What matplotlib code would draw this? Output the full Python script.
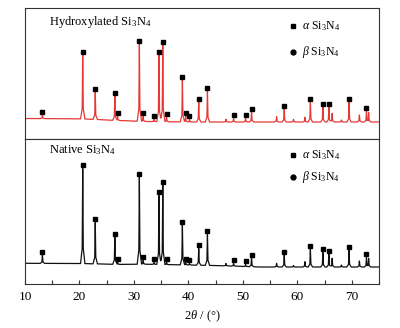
import numpy as np
import matplotlib
matplotlib.use("Agg")
import matplotlib.pyplot as plt
from matplotlib.transforms import offset_copy

# ---- data ----
peak_2theta = [13.2, 20.6, 22.9, 26.5, 27.0, 31.0, 31.7, 33.7, 34.6, 35.3, 36.0,
               38.9, 39.5, 40.2, 41.9, 43.5, 48.3, 50.5, 51.6, 57.6, 62.4, 64.7,
               65.8, 69.5, 72.7]
hyd_peak_top = [6.8, 66.8, 30.2, 25.8, 5.5, 77.5, 5.5, 2.5, 67.2, 76.8, 4.5,
                41.8, 5.5, 2.5, 20.2, 30.8, 3.5, 3.5, 9.8, 12.8, 19.8, 15.2,
                15.2, 19.8, 10.5]
nat_peak_top = [12.2, 98.5, 44.5, 29.8, 5.0, 89.8, 6.5, 4.5, 71.5, 82.2, 4.5,
                42.2, 5.2, 3.5, 18.5, 32.5, 3.5, 2.5, 9.2, 12.2, 17.8, 14.5,
                12.8, 17.2, 9.5]

extra_2theta = [46.9, 56.2, 59.3, 61.4, 66.4, 68.1, 71.4, 73.1]
hyd_extra_top = [2.7, 5.3, 2.7, 4.7, 8.7, 2.0, 7.0, 9.3]
nat_extra_top = [3.5, 3.7, 1.5, 5.3, 8.7, 2.0, 6.0, 8.7]

base_2theta = [10, 20, 27, 32, 40, 46, 53, 75]
hyd_base = [3.5, 3.2, 1.5, 0.5, 0.0, 0.0, 0.0, 0.0]
nat_base = [3.7, 3.5, 2.6, 2.8, 2.0, 1.3, 0.0, 0.0]

x_ticks = [10, 20, 30, 40, 50, 60, 70]

plt.rcParams["font.family"] = ["Liberation Serif", "DejaVu Serif"]
plt.rcParams["mathtext.fontset"] = "custom"
plt.rcParams["mathtext.rm"] = "Liberation Serif"
plt.rcParams["mathtext.it"] = "Liberation Serif:italic"


def profile(px_list, pt_list, bx, by):
    foot, shoulder, frac = 0.4, 0.1, 0.16
    xs = list(bx)
    for p in px_list:
        xs += [p - foot, p - shoulder, p, p + shoulder, p + foot]
    xs = np.unique(np.array(xs, dtype=float))
    y = np.interp(xs, bx, by)
    for p, t in zip(px_list, pt_list):
        b = float(np.interp(p, bx, by))
        sx = [p - foot, p - shoulder, p, p + shoulder, p + foot]
        sy = [b, b + frac * (t - b), t, b + frac * (t - b), b]
        c = np.interp(xs, sx, sy, left=-np.inf, right=-np.inf)
        y = np.maximum(y, c)
    return xs, y


fig = plt.figure(figsize=(4.0, 3.28), dpi=100)
fig.subplots_adjust(left=25 / 400, right=379 / 400, top=1 - 8 / 328,
                    bottom=1 - 284 / 328, hspace=0)
gs = fig.add_gridspec(2, 1, height_ratios=[131, 145])
ax1 = fig.add_subplot(gs[0])
ax2 = fig.add_subplot(gs[1], sharex=ax1)

panels = [
    (ax1, hyd_peak_top, hyd_extra_top, hyd_base, "#e53935", (-17, 114),
     "Hydroxylated Si$_3$N$_4$", 0.893, 0.863, 0.664),
    (ax2, nat_peak_top, nat_extra_top, nat_base, "#111111", (-17, 128),
     "Native Si$_3$N$_4$", 0.924, 0.890, 0.738),
]

for ax, tops, etops, base, col, ylim, title, ty, ya, yb in panels:
    xs, ys = profile(peak_2theta + extra_2theta, tops + etops, base_2theta, base)
    ax.plot(xs, ys, color=col, lw=0.9)
    tr = offset_copy(ax.transData, fig=fig, x=0, y=2.2, units="points")
    ax.plot(peak_2theta, tops, ls="none", marker="s", ms=2.8, color="black",
            transform=tr)
    ax.set_ylim(*ylim)
    ax.set_yticks([])
    ax.text(0.068, ty, title, transform=ax.transAxes, fontsize=9,
            va="center", ha="left")
    ax.plot([0.757], [ya], marker="s", ms=3, color="black", ls="none",
            transform=ax.transAxes)
    ax.plot([0.757], [yb], marker="o", ms=3.5, color="black", ls="none",
            transform=ax.transAxes)
    ax.text(0.782, ya, r"$\it{\alpha}$ Si$_3$N$_4$", transform=ax.transAxes,
            fontsize=8.5, va="center", ha="left")
    ax.text(0.782, yb, r"$\it{\beta}$ Si$_3$N$_4$", transform=ax.transAxes,
            fontsize=8.5, va="center", ha="left")
    for s in ax.spines.values():
        s.set_linewidth(0.8)
        s.set_color("#333333")

ax1.set_xlim(10, 75)
ax1.tick_params(axis="x", which="both", bottom=False, labelbottom=False)
ax2.set_xticks(x_ticks)
ax2.set_xticks([15, 25, 35, 45, 55, 65, 75], minor=True)
ax2.tick_params(axis="x", which="both", direction="in", length=3, width=0.8,
                labelsize=9.5, pad=5, color="#333333")
ax2.set_xlabel(r"$2\it{\theta}$ / (°)", fontsize=9, labelpad=4)

fig.savefig("out.png", dpi=100, facecolor="white")
